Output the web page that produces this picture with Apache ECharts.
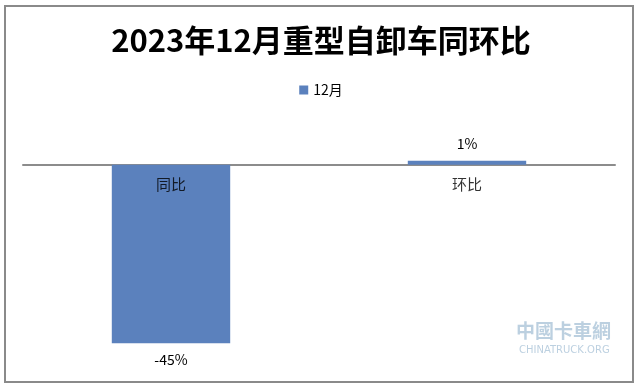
<!DOCTYPE html>
<html>
<head>
<meta charset="utf-8">
<style>html,body{margin:0;padding:0;background:#fff;}#c{width:642px;height:392px;}</style>
<script src="https://cdn.jsdelivr.net/npm/echarts@6/dist/echarts.min.js"></script>
</head>
<body>
<div id="c"></div>
<script>
const titleText = '2023年12月重型自卸车同环比';
const seriesName = '12月';
const categories = ['同比', '环比'];
const values = [-45, 1];

const chart = echarts.init(document.getElementById('c'));
const font = '"Noto Sans CJK SC", "Noto Sans", sans-serif';
chart.setOption({
  animation: false,
  textStyle: { fontFamily: font },
  title: {
    text: titleText, left: 'center', top: 20,
    textStyle: { fontSize: 31, fontWeight: 'bold', color: '#000', fontFamily: font }
  },
  legend: {
    data: [seriesName], top: 78, left: 'center',
    icon: 'rect', itemWidth: 9, itemHeight: 9, itemGap: 4,
    textStyle: { fontSize: 14, color: '#000', fontFamily: font }
  },
  grid: { left: 23, right: 27, top: 125, bottom: 29 },
  xAxis: {
    type: 'category', data: categories,
    axisLine: { onZero: true, lineStyle: { color: '#8c8c8c', width: 2 } },
    axisTick: { show: false },
    axisLabel: { show: false }
  },
  yAxis: {
    type: 'value', min: -50, max: 10, show: false, splitLine: { show: false }
  },
  graphic: [
    { type: 'rect', shape: { x: 5, y: 6, width: 628, height: 376 },
      style: { fill: 'none', stroke: '#8a8a8a', lineWidth: 2 }, z: 100 },
    { type: 'text', left: 516, top: 321,
      style: { text: '中國卡車網', fill: '#8fb0cc', font: 'bold 19px "Noto Sans CJK SC"', opacity: 0.6 } },
    { type: 'text', left: 519, top: 345,
      style: { text: 'CHINATRUCK.ORG', fill: '#8fb0cc', font: '10px "DejaVu Sans"', opacity: 0.6 } }
  ],
  series: [{
    name: seriesName, type: 'bar', data: values.map(v => v < 0 ? { value: v, label: { position: 'bottom' } } : v),
    barWidth: '40%',
    itemStyle: { color: '#5b81bd' },
    label: {
      show: true, fontSize: 14, color: '#000', distance: 10, fontFamily: font,
      formatter: p => p.value + '%',
      position: 'top'
    }
  }, {
    name: 'cat', type: 'scatter', symbolSize: 0, silent: true,
    data: categories.map(c => [c, 0]),
    label: {
      show: true, position: 'bottom', distance: 12, fontSize: 15, color: '#000', fontFamily: font,
      formatter: p => p.name || p.value[0]
    }
  }]
});
</script>
</body>
</html>
